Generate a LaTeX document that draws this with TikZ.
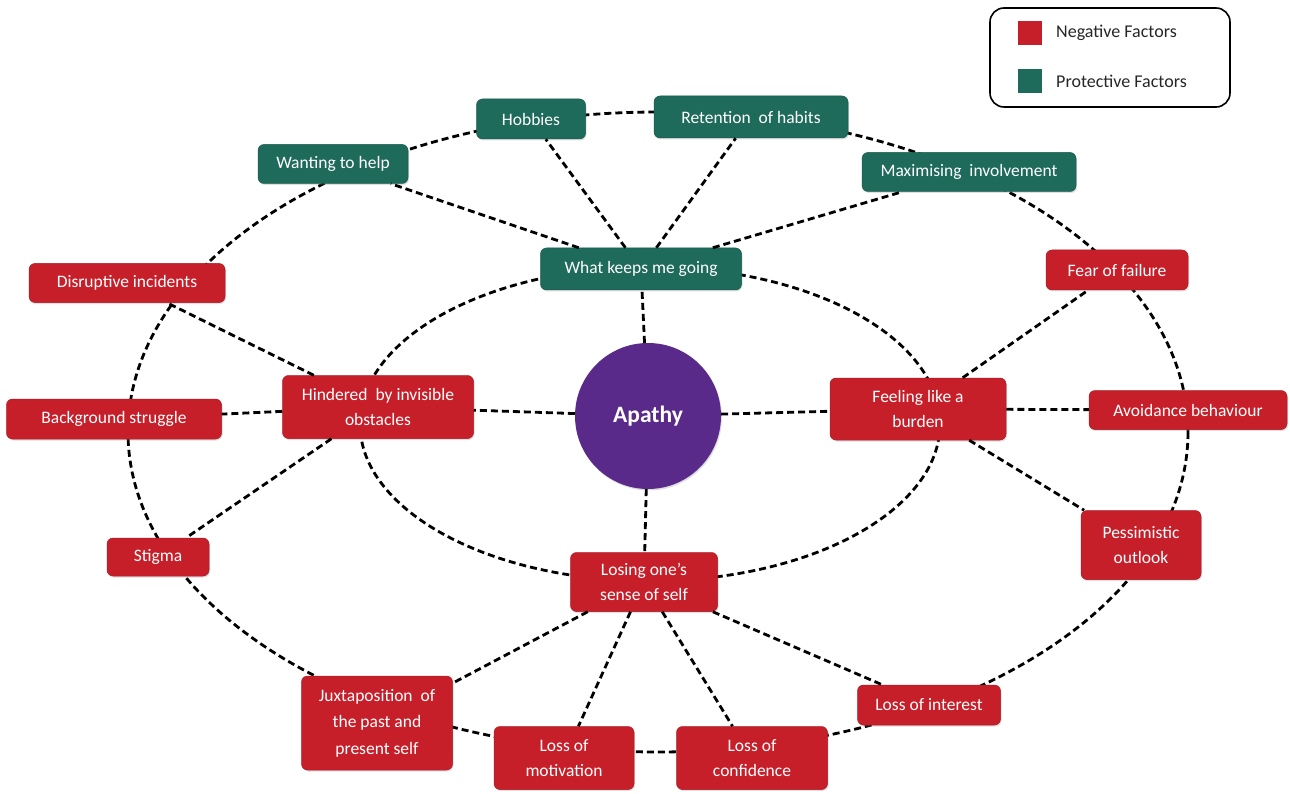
\documentclass[tikz,border=0pt]{standalone}
\usepackage{fontspec}
\setmainfont{Carlito}
\usetikzlibrary{shadows}
\definecolor{negred}{HTML}{C71F2A}
\definecolor{protgreen}{HTML}{1E6A5B}
\definecolor{apurple}{HTML}{5A2A8A}
\begin{document}
\begin{tikzpicture}[x=1pt,y=-1pt,
  box/.style={rectangle, rounded corners=6pt, text=white, align=center,
     font=\fontsize{17.5}{24.5}\selectfont, inner sep=2pt,
     drop shadow={opacity=0.25, shadow xshift=1pt, shadow yshift=-1.5pt}},
  neg/.style={box, fill=negred, draw=negred!85!black, line width=0.5pt},
  prot/.style={box, fill=protgreen, draw=protgreen!85!black, line width=0.5pt},
  dl/.style={draw=black, line width=2.8pt, dash pattern=on 7pt off 4pt},
  legendsq/.style={rectangle, minimum size=24pt, inner sep=0pt}
]
\useasboundingbox (0,0) rectangle (1290,794);

% ellipses
\coordinate (oc) at (658,432);
\coordinate (ic) at (650,424);
\draw[dl] (oc) ellipse [x radius=530, y radius=320];
\draw[dl] (ic) ellipse [x radius=290, y radius=157];

% legend
\node[draw=black, line width=1.6pt, rounded corners=14pt, minimum width=240pt, minimum height=99pt] (legend) at (1110,57.5) {};
\node[legendsq, fill=negred] (lsqn) at (1030,33) {};
\node[legendsq, fill=protgreen] (lsqp) at (1030,81) {};
\node[anchor=west, inner sep=0pt, font=\fontsize{18}{20}\selectfont, text=black!85] (ltn) at (1056,33) {Negative Factors};
\node[anchor=west, inner sep=0pt, font=\fontsize{18}{20}\selectfont, text=black!85] (ltp) at (1056,81) {Protective Factors};

% centre
\node[circle, fill=apurple, minimum size=146pt, text=white, font=\fontsize{23.5}{28}\selectfont\bfseries,
      drop shadow={opacity=0.25, shadow xshift=1pt, shadow yshift=-1.5pt}] (ap) at (648,416) {Apathy};

% protective
\node[prot, minimum width=201pt, minimum height=42pt] (wk) at (641,269) {What keeps me going};
\node[prot, minimum width=109pt, minimum height=40pt] (hob) at (531,119) {Hobbies};
\node[prot, minimum width=194pt, minimum height=42pt] (ret) at (751,117) {Retention\ \ of habits};
\node[prot, minimum width=150pt, minimum height=39pt] (wth) at (333,164) {Wanting to help};
\node[prot, minimum width=214pt, minimum height=39pt] (max) at (969,172) {Maximising\ \ involvement};

% negative
\node[neg, minimum width=191pt, minimum height=63pt] (hin) at (378,407) {Hindered\ \ by invisible\\obstacles};
\node[neg, minimum width=196pt, minimum height=39pt] (dis) at (127,283) {Disruptive incidents};
\node[neg, minimum width=215pt, minimum height=40pt] (bac) at (114,419) {Background struggle};
\node[neg, minimum width=102pt, minimum height=38pt] (sti) at (158,557) {Stigma};

\node[neg, minimum width=176pt, minimum height=62pt] (fee) at (918,409) {Feeling like a\\burden};
\node[neg, minimum width=142pt, minimum height=40pt] (fea) at (1117,270) {Fear of failure};
\node[neg, minimum width=198pt, minimum height=39pt] (avo) at (1188,410) {Avoidance behaviour};
\node[neg, minimum width=120pt, minimum height=69pt] (pes) at (1141,545) {Pessimistic\\outlook};

\node[neg, minimum width=147pt, minimum height=59pt] (los) at (644,582) {Losing one's\\sense of self};
\node[neg, minimum width=151pt, minimum height=94pt, font=\fontsize{17.5}{26.5}\selectfont] (jux) at (377,723) {Juxtaposition\ \ of\\the past and\\present self};
\node[neg, minimum width=140pt, minimum height=63pt] (mot) at (564,758) {Loss of\\motivation};
\node[neg, minimum width=151pt, minimum height=63pt] (con) at (752,758) {Loss of\\confidence};
\node[neg, minimum width=143pt, minimum height=40pt] (int) at (929,705) {Loss of interest};

% connectors
\draw[dl] (ap) -- (wk);
\draw[dl] (ap) -- (hin);
\draw[dl] (ap) -- (fee);
\draw[dl] (ap) -- (los);

\draw[dl] (wk) -- (wth);
\draw[dl] (wk) -- (hob);
\draw[dl] (wk) -- (ret);
\draw[dl] (wk) -- (max);

\draw[dl] (hin) -- (dis);
\draw[dl] (hin) -- (bac);
\draw[dl] (hin) -- (sti);

\draw[dl] (fee) -- (fea);
\draw[dl] (fee) -- (avo);
\draw[dl] (fee) -- (pes);

\draw[dl] (los) -- (jux);
\draw[dl] (los) -- (mot);
\draw[dl] (los) -- (con);
\draw[dl] (los) -- (int);
\end{tikzpicture}
\end{document}
